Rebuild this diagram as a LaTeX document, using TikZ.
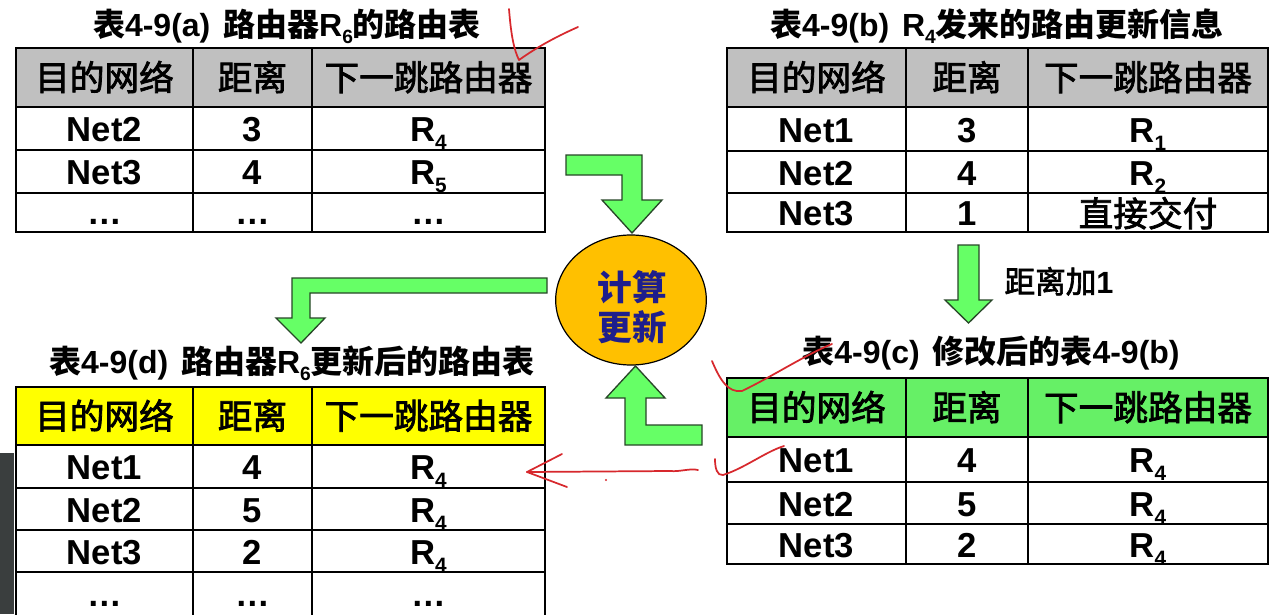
\documentclass[tikz,border=0pt]{standalone}
\usepackage{fontspec}
\setmainfont{Liberation Sans}
\newfontfamily\cjk{Noto Sans CJK SC}
\newfontfamily\cjkm{Noto Sans CJK SC}[FakeBold=2.2]
\usetikzlibrary{shapes.geometric}
\definecolor{hdrgray}{RGB}{192,192,192}
\definecolor{hdrgreen}{RGB}{102,240,102}
\definecolor{hdryellow}{RGB}{255,255,0}
\definecolor{arrgreen}{RGB}{102,255,102}
\definecolor{arrline}{RGB}{40,70,40}
\definecolor{ellorange}{RGB}{255,192,0}
\definecolor{navy}{RGB}{30,30,140}
\definecolor{redpen}{RGB}{215,40,45}
\definecolor{darkbar}{RGB}{58,62,62}
\newcommand\rsub[1]{\raisebox{-0.22em}{\scalebox{0.6}{#1}}}
\tikzset{
 cell/.style={inner sep=0pt, text height=18.7pt, text depth=0pt, font=\fontsize{26}{30}\selectfont\bfseries},
 hcell/.style={inner sep=0pt, text height=18.7pt, text depth=0pt, font=\fontsize{26}{30}\selectfont\cjkm},
 ttl/.style={inner sep=0pt, text height=17.3pt, text depth=0pt, font=\fontsize{24}{28}\selectfont\bfseries},
 grid/.style={draw=black, line width=1.2pt},
 frame/.style={draw=black, line width=1.6pt},
 blockarrow/.style={fill=arrgreen, draw=arrline, line width=1pt, line join=miter},
 pen/.style={draw=redpen, line width=1.3pt, line cap=round, line join=round}
}
\begin{document}
\begin{tikzpicture}[x=0.75pt,y=-0.75pt]
\useasboundingbox (0,0) rectangle (1285,614);
\clip (0,0) rectangle (1285,614);
\fill[white] (0,0) rectangle (1285,614);
\fill[darkbar] (0,453) rectangle (14,614);

% ---------- Table (a)
\node[ttl] (ta) at (287,25) {{\cjk 表}4-9(a)\hspace{0.4em}{\cjk 路由器}R\rsub{6}{\cjk 的路由表}};
\fill[hdrgray] (16,48) rectangle (545,107);
\draw[grid] (16,107) -- (545,107) (16,150) -- (545,150) (16,193) -- (545,193)
            (193,48) -- (193,232) (312,48) -- (312,232);
\draw[frame] (16,48) rectangle (545,232);
\node[hcell] (a11) at (104.5,78) {目的网络};
\node[hcell] (a12) at (252.5,78) {距离};
\node[hcell] (a13) at (428.5,78) {下一跳路由器};
\node[cell] (a21) at (104.5,129.5) {Net2};
\node[cell] (a22) at (252.5,129.5) {3};
\node[cell] (a23) at (428.5,129.5) {R\rsub{4}};
\node[cell] (a31) at (104.5,172.5) {Net3};
\node[cell] (a32) at (252.5,172.5) {4};
\node[cell] (a33) at (428.5,172.5) {R\rsub{5}};
\node[cell] (a41) at (104.5,212.5) {…};
\node[cell] (a42) at (252.5,212.5) {…};
\node[cell] (a43) at (428.5,212.5) {…};

% ---------- Table (b)
\node[ttl] (tb) at (997,25) {{\cjk 表}4-9(b)\hspace{0.4em}R\rsub{4}{\cjk 发来的路由更新信息}};
\fill[hdrgray] (727,48) rectangle (1268,107);
\draw[grid] (727,107) -- (1268,107) (727,151) -- (1268,151) (727,193) -- (1268,193)
            (906,48) -- (906,232) (1028,48) -- (1028,232);
\draw[frame] (727,48) rectangle (1268,232);
\node[hcell] (b11) at (816.5,78) {目的网络};
\node[hcell] (b12) at (967,78) {距离};
\node[hcell] (b13) at (1148,78) {下一跳路由器};
\node[cell] (b21) at (816.5,130) {Net1};
\node[cell] (b22) at (967,130) {3};
\node[cell] (b23) at (1148,130) {R\rsub{1}};
\node[cell] (b31) at (816.5,173) {Net2};
\node[cell] (b32) at (967,173) {4};
\node[cell] (b33) at (1148,173) {R\rsub{2}};
\node[cell] (b41) at (816.5,213.5) {Net3};
\node[cell] (b42) at (967,213.5) {1};
\node[hcell] (b43) at (1148,214) {直接交付};

% ---------- Table (c)
\node[ttl] (tc) at (991,352) {{\cjk 表}4-9(c)\hspace{0.4em}{\cjk 修改后的表}4-9(b)};
\fill[hdrgreen] (727,378) rectangle (1268,437);
\draw[grid] (727,437) -- (1268,437) (727,482) -- (1268,482) (727,524) -- (1268,524)
            (906,378) -- (906,564) (1028,378) -- (1028,564);
\draw[frame] (727,378) rectangle (1268,564);
\node[hcell] (c11) at (816.5,408) {目的网络};
\node[hcell] (c12) at (967,408) {距离};
\node[hcell] (c13) at (1148,408) {下一跳路由器};
\node[cell] (c21) at (816.5,460.5) {Net1};
\node[cell] (c22) at (967,460.5) {4};
\node[cell] (c23) at (1148,460.5) {R\rsub{4}};
\node[cell] (c31) at (816.5,504) {Net2};
\node[cell] (c32) at (967,504) {5};
\node[cell] (c33) at (1148,504) {R\rsub{4}};
\node[cell] (c41) at (816.5,545) {Net3};
\node[cell] (c42) at (967,545) {2};
\node[cell] (c43) at (1148,545) {R\rsub{4}};

% ---------- Table (d)
\node[ttl] (td) at (292,362) {{\cjk 表}4-9(d)\hspace{0.4em}{\cjk 路由器}R\rsub{6}{\cjk 更新后的路由表}};
\fill[hdryellow] (16,387) rectangle (545,445);
\draw[grid] (16,445) -- (545,445) (16,488) -- (545,488) (16,530) -- (545,530) (16,572) -- (545,572)
            (193,387) -- (193,640) (312,387) -- (312,640);
\draw[frame] (16,387) rectangle (545,640);
\node[hcell] (d11) at (104.5,416.5) {目的网络};
\node[hcell] (d12) at (252.5,416.5) {距离};
\node[hcell] (d13) at (428.5,416.5) {下一跳路由器};
\node[cell] (d21) at (104.5,467.5) {Net1};
\node[cell] (d22) at (252.5,467.5) {4};
\node[cell] (d23) at (428.5,467.5) {R\rsub{4}};
\node[cell] (d31) at (104.5,510) {Net2};
\node[cell] (d32) at (252.5,510) {5};
\node[cell] (d33) at (428.5,510) {R\rsub{4}};
\node[cell] (d41) at (104.5,552) {Net3};
\node[cell] (d42) at (252.5,552) {2};
\node[cell] (d43) at (428.5,552) {R\rsub{4}};
\node[cell] (d51) at (104.5,594) {…};
\node[cell] (d52) at (252.5,594) {…};
\node[cell] (d53) at (428.5,594) {…};

% ---------- Ellipse
\node[ellipse, fill=ellorange, draw=black, line width=0.9pt, minimum width=113pt, minimum height=97.5pt] (calc) at (631,300) {};
\node[align=center, inner sep=0pt, text=navy, font=\fontsize{26}{30}\selectfont\cjk\bfseries] (calctext) at (632,307) {计算\\更新};

% ---------- Green block arrows
\draw[blockarrow] (566,155) -- (642,155) -- (642,200) -- (662,200) -- (632,233) -- (602,200) -- (622,200) -- (622,175) -- (566,175) -- cycle;
\draw[blockarrow] (635.5,366) -- (665,398) -- (646,398) -- (646,425) -- (702,425) -- (702,445) -- (625,445) -- (625,398) -- (606,398) -- cycle;
\draw[blockarrow] (547,278) -- (547,293) -- (310,293) -- (310,318) -- (325,318) -- (301,343) -- (276,318) -- (292,318) -- (292,278) -- cycle;
\draw[blockarrow] (958,245) -- (979,245) -- (979,300) -- (992,300) -- (968.5,323) -- (945,300) -- (958,300) -- cycle;
\node[inner sep=0pt, text height=16.5pt, text depth=0pt, font=\fontsize{23}{27}\selectfont] (plus1) at (1059,282) {{\cjkm 距离加}\textbf{1}};

% ---------- Red pen marks
\draw[pen] (509,9) .. controls (511,35) and (514,50) .. (519,60) .. controls (540,45) and (560,35) .. (578,27);
\draw[pen] (712,361) .. controls (720,380) and (728,393) .. (742,391) .. controls (775,375) and (805,355) .. (832,344);
\draw[pen] (715,459) .. controls (715,468) and (717,476) .. (723,475) .. controls (745,468) and (765,452) .. (784,446);
\coordinate (penstart) at (698,470);
\coordinate (pentip) at (527,472);
\draw[pen] (penstart) .. controls (690,468) and (680,472) .. (670,471) -- (pentip);
\draw[pen] (562,454) -- (pentip) -- (567,487);
\fill[redpen] (606,480) circle (1.2);
\end{tikzpicture}
\end{document}
